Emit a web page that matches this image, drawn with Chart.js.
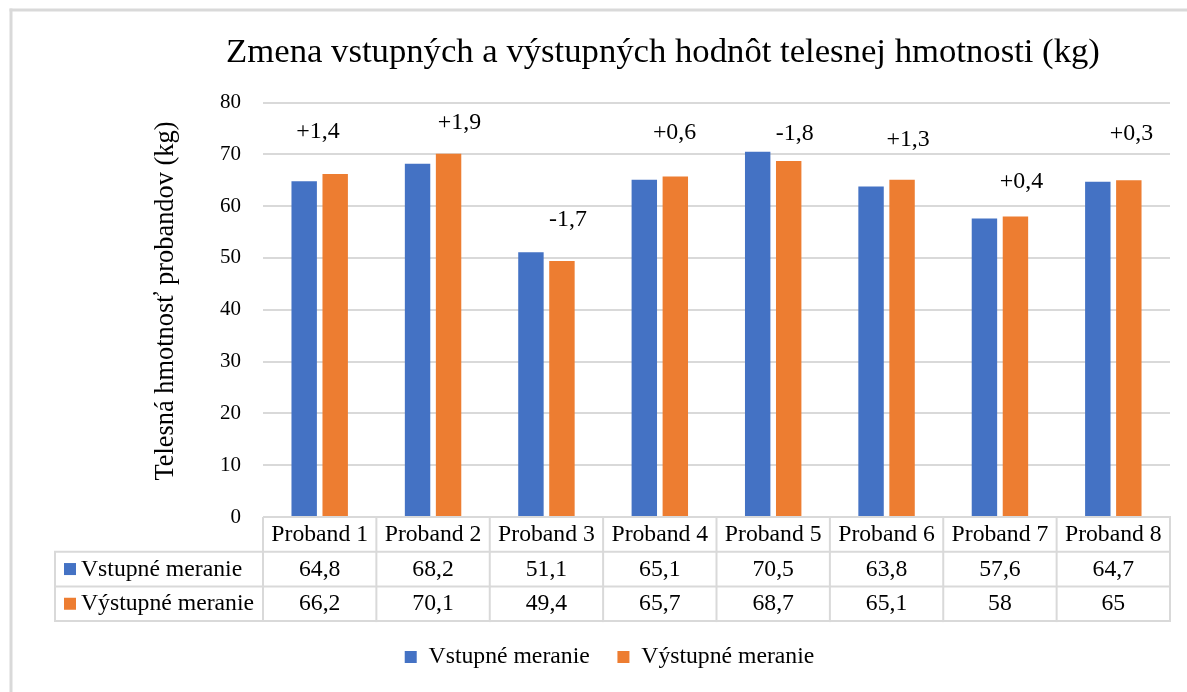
<!DOCTYPE html>
<html><head><meta charset="utf-8">
<script src="https://cdn.jsdelivr.net/npm/chart.js@4.4.1/dist/chart.umd.min.js"></script>
<style>html,body{margin:0;padding:0;background:#fff;overflow:hidden}</style>
</head><body>
<canvas id="c" width="1187" height="692" style="display:block;width:1187px;height:692px"></canvas>
<script>
// ---- data ----
const chartTitle = 'Zmena vstupných a výstupných hodnôt telesnej hmotnosti (kg)';
const yAxisTitle = 'Telesná hmotnosť probandov (kg)';
const categories = ['Proband 1','Proband 2','Proband 3','Proband 4','Proband 5','Proband 6','Proband 7','Proband 8'];
const seriesNames = ['Vstupné meranie','Výstupné meranie'];
const vstupneMeranie = [64.8, 68.2, 51.1, 65.1, 70.5, 63.8, 57.6, 64.7];
const vystupneMeranie = [66.2, 70.1, 49.4, 65.7, 68.7, 65.1, 58, 65];
const zmenaLabels = ['+1,4','+1,9','-1,7','+0,6','-1,8','+1,3','+0,4','+0,3'];
// level (kg) at which each change label sits, and its shift in category widths
const zmenaLabelLevel = [74.4, 76.05, 57.3, 74.25, 73.9, 72.9, 64.7, 73.9];
const zmenaLabelShift = [-0.015, 0.233, 0.19, 0.13, 0.19, 0.19, 0.19, 0.16];
const yMin = 0, yMax = 80, yStep = 10;

// ---- styles ----
const SERIF = "'Liberation Serif','Times New Roman',serif";
const colors = ['#4472C4', '#ED7D31'];
const gridColor = '#d9d9d9';
const fmt = v => String(v).replace('.', ',');
const seriesValues = [vstupneMeranie, vystupneMeranie];

const decor = {
  id: 'decor',
  beforeDraw(chart) {
    const c = chart.ctx;
    c.save();
    c.fillStyle = '#fff';
    c.fillRect(0, 0, chart.width, chart.height);
    c.fillStyle = '#d9d9d9';
    c.fillRect(9.5, 8.5, chart.width, 3);
    c.fillRect(9.5, 8.5, 3, chart.height);
    c.fillStyle = '#000';
    c.font = `34.7px ${SERIF}`;
    c.textAlign = 'center';
    c.textBaseline = 'alphabetic';
    c.fillText(chartTitle, 663, 61.7);
    // y axis title
    c.save();
    c.translate(166.5, 301);
    c.rotate(-Math.PI / 2);
    c.font = `26.4px ${SERIF}`;
    c.textBaseline = 'middle';
    c.fillText(yAxisTitle, 0, 0);
    c.restore();
    c.restore();
  },
  afterDatasetsDraw(chart) {
    const c = chart.ctx, x = chart.scales.x, y = chart.scales.y;
    c.save();
    c.fillStyle = '#000';
    c.font = `23.9px ${SERIF}`;
    c.textAlign = 'center';
    c.textBaseline = 'middle';
    zmenaLabels.forEach((t, i) => {
      c.fillText(t, x.getPixelForValue(i + zmenaLabelShift[i]), y.getPixelForValue(zmenaLabelLevel[i]));
    });
    c.restore();
  },
  afterDraw(chart) {
    const c = chart.ctx, x = chart.scales.x, area = chart.chartArea;
    const n = categories.length;
    const colW = (area.right - area.left) / n;
    const top = area.bottom;
    const rowH = 34.7;
    const headLeft = 55;
    c.save();
    c.strokeStyle = gridColor;
    c.lineWidth = 2;
    const line = (x1, y1, x2, y2) => { c.beginPath(); c.moveTo(x1, y1); c.lineTo(x2, y2); c.stroke(); };
    line(area.left, top, area.right + 1, top);
    for (let r = 1; r <= 3; r++) line(headLeft - 1, top + r * rowH, area.right + 1, top + r * rowH);
    for (let i = 0; i <= n; i++) {
      const xi = area.left + i * colW;
      line(xi, top, xi, top + 3 * rowH + 1);
    }
    line(headLeft, top + rowH, headLeft, top + 3 * rowH + 1);
    c.fillStyle = '#000';
    c.font = `23.7px ${SERIF}`;
    c.textBaseline = 'middle';
    c.textAlign = 'center';
    categories.forEach((cat, i) => c.fillText(cat, x.getPixelForValue(i), top + rowH / 2 + 0.5));
    seriesNames.forEach((name, r) => {
      const cy = top + rowH * (r + 1.5) + 0.5;
      c.fillStyle = colors[r];
      c.fillRect(64, cy - 6.5, 12, 12);
      c.fillStyle = '#000';
      c.textAlign = 'left';
      c.fillText(name, 81, cy);
      c.textAlign = 'center';
      seriesValues[r].forEach((v, i) => c.fillText(fmt(v), x.getPixelForValue(i), cy));
    });
    c.restore();
  }
};

new Chart(document.getElementById('c'), {
  type: 'bar',
  data: {
    labels: categories,
    datasets: seriesNames.map((name, k) => ({
      label: name,
      data: seriesValues[k],
      backgroundColor: colors[k],
      borderWidth: 0,
      categoryPercentage: 0.547,
      barPercentage: 0.82
    }))
  },
  options: {
    responsive: false,
    animation: false,
    devicePixelRatio: 1,
    layout: { padding: { left: 49, right: 17, top: 102.5, bottom: 13.15 } },
    plugins: {
      title: { display: false },
      tooltip: { enabled: false },
      legend: {
        position: 'bottom',
        labels: {
          boxWidth: 12, boxHeight: 12, padding: 27.7,
          color: '#000',
          font: { family: SERIF, size: 23.7 }
        }
      }
    },
    scales: {
      x: {
        grid: { display: false },
        border: { display: false },
        ticks: { display: false },
        afterFit(s) { s.height = 100.45; }
      },
      y: {
        min: yMin, max: yMax,
        ticks: { stepSize: yStep, color: '#000', padding: 22, font: { family: SERIF, size: 21 } },
        grid: { color: gridColor, lineWidth: 2, drawTicks: false },
        border: { display: false },
        title: { display: false },
        afterFit(s) { s.width = 214; }
      }
    }
  },
  plugins: [decor]
});
</script>
</body></html>
